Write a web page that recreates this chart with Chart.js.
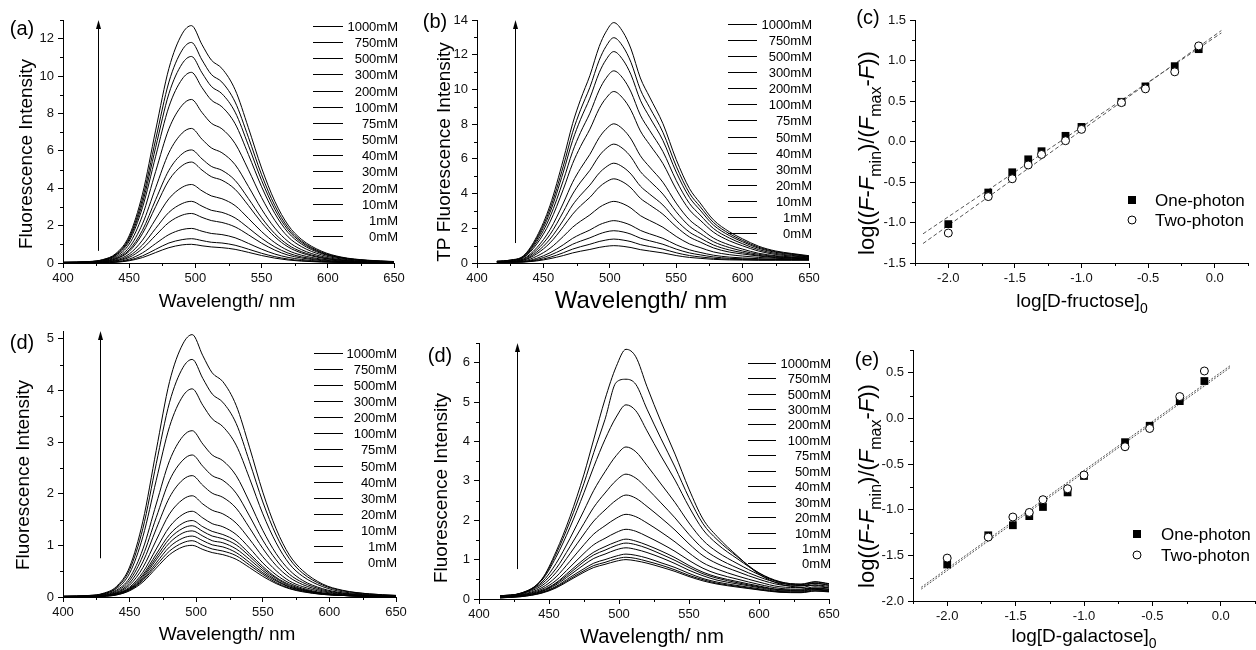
<!DOCTYPE html>
<html>
<head>
<meta charset="utf-8">
<script src="https://cdn.jsdelivr.net/npm/chart.js@4.4.1/dist/chart.umd.min.js"></script>
<style>
  html, body { margin: 0; padding: 0; background: #fff; width: 1256px; height: 650px; overflow: hidden; }
  canvas { position: absolute; }
</style>
</head>
<body>
<canvas id="pa"></canvas>
<canvas id="pb"></canvas>
<canvas id="pc"></canvas>
<canvas id="pd"></canvas>
<canvas id="pd2"></canvas>
<canvas id="pe"></canvas>
<script>
// ---- data ----
const concLabels = ['1000mM', '750mM', '500mM', '300mM', '200mM', '100mM', '75mM', '50mM', '40mM', '30mM', '20mM', '10mM', '1mM', '0mM'];

// (a) one-photon, D-fructose
const waveA = [400, 420, 430, 440, 450, 460, 470, 480, 490, 497, 505, 512, 520, 530, 540, 550, 560, 570, 580, 595, 610, 630, 650];
const specA = [
  [0.04, 0.08, 0.18, 0.51, 1.46, 3.68, 7.11, 10.41, 12.26, 12.7, 11.68, 10.86, 10.41, 9.27, 7.24, 5.08, 3.30, 2.03, 1.27, 0.64, 0.32, 0.15, 0.08],
  [0.04, 0.07, 0.17, 0.47, 1.36, 3.42, 6.61, 9.68, 11.39, 11.8, 10.86, 10.09, 9.68, 8.61, 6.73, 4.72, 3.07, 1.89, 1.18, 0.59, 0.30, 0.14, 0.07],
  [0.03, 0.07, 0.15, 0.44, 1.27, 3.20, 6.19, 9.06, 10.66, 11.05, 10.17, 9.45, 9.06, 8.07, 6.30, 4.42, 2.87, 1.77, 1.11, 0.55, 0.28, 0.13, 0.07],
  [0.03, 0.06, 0.14, 0.41, 1.17, 2.96, 5.71, 8.36, 9.84, 10.2, 9.38, 8.72, 8.36, 7.45, 5.81, 4.08, 2.65, 1.63, 1.02, 0.51, 0.26, 0.12, 0.06],
  [0.03, 0.05, 0.12, 0.35, 1.01, 2.54, 4.90, 7.18, 8.44, 8.75, 8.05, 7.48, 7.18, 6.39, 4.99, 3.50, 2.28, 1.40, 0.88, 0.44, 0.22, 0.11, 0.05],
  [0.02, 0.04, 0.10, 0.29, 0.83, 2.09, 4.03, 5.90, 6.95, 7.2, 6.62, 6.16, 5.90, 5.26, 4.10, 2.88, 1.87, 1.15, 0.72, 0.36, 0.18, 0.09, 0.04],
  [0.02, 0.04, 0.08, 0.24, 0.70, 1.75, 3.39, 4.96, 5.84, 6.05, 5.57, 5.17, 4.96, 4.42, 3.45, 2.42, 1.57, 0.97, 0.61, 0.30, 0.15, 0.07, 0.04],
  [0.02, 0.03, 0.08, 0.22, 0.62, 1.57, 3.02, 4.43, 5.21, 5.4, 4.97, 4.62, 4.43, 3.94, 3.08, 2.16, 1.40, 0.86, 0.54, 0.27, 0.14, 0.06, 0.03],
  [0.01, 0.03, 0.06, 0.17, 0.48, 1.22, 2.35, 3.44, 4.05, 4.2, 3.86, 3.59, 3.44, 3.07, 2.39, 1.68, 1.09, 0.67, 0.42, 0.21, 0.11, 0.05, 0.03],
  [0.01, 0.02, 0.05, 0.13, 0.38, 0.96, 1.85, 2.71, 3.18, 3.3, 3.04, 2.82, 2.71, 2.41, 1.88, 1.32, 0.86, 0.53, 0.33, 0.17, 0.08, 0.04, 0.02],
  [0.01, 0.02, 0.04, 0.11, 0.30, 0.77, 1.48, 2.17, 2.56, 2.65, 2.44, 2.27, 2.17, 1.93, 1.51, 1.06, 0.69, 0.42, 0.27, 0.13, 0.07, 0.03, 0.02],
  [0.01, 0.01, 0.03, 0.07, 0.21, 0.54, 1.04, 1.52, 1.79, 1.85, 1.70, 1.58, 1.52, 1.35, 1.05, 0.74, 0.48, 0.30, 0.19, 0.09, 0.05, 0.02, 0.01],
  [0.00, 0.01, 0.02, 0.05, 0.15, 0.38, 0.73, 1.07, 1.25, 1.3, 1.20, 1.11, 1.07, 0.95, 0.74, 0.52, 0.34, 0.21, 0.13, 0.07, 0.03, 0.02, 0.01],
  [0.00, 0.01, 0.01, 0.04, 0.12, 0.29, 0.56, 0.82, 0.97, 1.0, 0.92, 0.86, 0.82, 0.73, 0.57, 0.40, 0.26, 0.16, 0.10, 0.05, 0.03, 0.01, 0.01]
];

// (b) two-photon, D-fructose
const waveB = [415, 425, 435, 445, 455, 465, 472, 478, 485, 492, 497, 503, 510, 516, 523, 530, 540, 550, 560, 568, 578, 590, 600, 612, 625, 637, 650];
const specB = [
  [0.10, 0.17, 0.42, 1.52, 3.32, 5.96, 8.03, 9.42, 10.80, 12.47, 13.30, 13.85, 13.30, 12.33, 10.66, 9.56, 8.03, 5.96, 4.29, 3.46, 2.49, 1.80, 1.39, 0.97, 0.69, 0.55, 0.42],
  [0.10, 0.16, 0.39, 1.43, 3.12, 5.58, 7.53, 8.83, 10.12, 11.68, 12.46, 12.98, 12.46, 11.55, 9.99, 8.96, 7.53, 5.58, 4.02, 3.25, 2.34, 1.69, 1.30, 0.91, 0.65, 0.52, 0.39],
  [0.09, 0.15, 0.37, 1.34, 2.92, 5.24, 7.06, 8.28, 9.50, 10.96, 11.69, 12.18, 11.69, 10.84, 9.38, 8.40, 7.06, 5.24, 3.78, 3.05, 2.19, 1.58, 1.22, 0.85, 0.61, 0.49, 0.37],
  [0.08, 0.13, 0.33, 1.22, 2.66, 4.76, 6.42, 7.53, 8.63, 9.96, 10.63, 11.07, 10.63, 9.85, 8.52, 7.64, 6.42, 4.76, 3.43, 2.77, 1.99, 1.44, 1.11, 0.77, 0.55, 0.44, 0.35],
  [0.08, 0.12, 0.30, 1.09, 2.37, 4.25, 5.73, 6.72, 7.71, 8.89, 9.48, 9.88, 9.48, 8.79, 7.61, 6.82, 5.73, 4.25, 3.06, 2.47, 1.78, 1.28, 0.99, 0.69, 0.49, 0.40, 0.33],
  [0.07, 0.10, 0.24, 0.88, 1.92, 3.45, 4.65, 5.45, 6.26, 7.22, 7.70, 8.02, 7.70, 7.14, 6.18, 5.53, 4.65, 3.45, 2.49, 2.01, 1.44, 1.04, 0.80, 0.56, 0.42, 0.35, 0.30],
  [0.07, 0.09, 0.21, 0.75, 1.64, 2.95, 3.97, 4.66, 5.34, 6.17, 6.58, 6.85, 6.58, 6.10, 5.27, 4.73, 3.97, 2.95, 2.12, 1.71, 1.23, 0.89, 0.69, 0.50, 0.38, 0.32, 0.28],
  [0.06, 0.08, 0.17, 0.63, 1.38, 2.47, 3.34, 3.91, 4.49, 5.18, 5.52, 5.75, 5.52, 5.12, 4.43, 3.97, 3.34, 2.47, 1.78, 1.44, 1.04, 0.75, 0.60, 0.44, 0.34, 0.30, 0.26],
  [0.06, 0.07, 0.15, 0.53, 1.16, 2.09, 2.81, 3.30, 3.78, 4.37, 4.66, 4.85, 4.66, 4.32, 3.73, 3.35, 2.81, 2.09, 1.50, 1.21, 0.87, 0.63, 0.52, 0.40, 0.31, 0.27, 0.24],
  [0.05, 0.06, 0.11, 0.39, 0.85, 1.53, 2.06, 2.41, 2.77, 3.20, 3.41, 3.55, 3.41, 3.16, 2.73, 2.45, 2.06, 1.53, 1.10, 0.89, 0.64, 0.48, 0.40, 0.32, 0.27, 0.24, 0.22],
  [0.05, 0.05, 0.08, 0.27, 0.59, 1.05, 1.42, 1.66, 1.90, 2.20, 2.34, 2.44, 2.34, 2.17, 1.88, 1.68, 1.42, 1.05, 0.76, 0.61, 0.45, 0.34, 0.29, 0.25, 0.22, 0.21, 0.20],
  [0.05, 0.05, 0.07, 0.20, 0.45, 0.80, 1.08, 1.26, 1.45, 1.67, 1.79, 1.86, 1.79, 1.66, 1.43, 1.28, 1.08, 0.80, 0.58, 0.47, 0.35, 0.27, 0.24, 0.21, 0.20, 0.19, 0.19],
  [0.05, 0.05, 0.06, 0.15, 0.33, 0.59, 0.80, 0.94, 1.08, 1.24, 1.32, 1.38, 1.32, 1.23, 1.06, 0.95, 0.80, 0.59, 0.43, 0.35, 0.27, 0.22, 0.20, 0.18, 0.18, 0.18, 0.18],
  [0.05, 0.05, 0.06, 0.12, 0.25, 0.43, 0.58, 0.68, 0.78, 0.90, 0.96, 1.00, 0.96, 0.89, 0.77, 0.69, 0.58, 0.43, 0.32, 0.27, 0.21, 0.18, 0.17, 0.16, 0.16, 0.16, 0.16]
];

// (c) Hill-type plot, D-fructose
const logFructose = [-2.0, -1.7, -1.52, -1.4, -1.3, -1.12, -1.0, -0.7, -0.52, -0.3, -0.12];
const cOnePhoton = [-1.02, -0.63, -0.38, -0.22, -0.12, 0.07, 0.18, 0.49, 0.68, 0.93, 1.14];
const cTwoPhoton = [-1.13, -0.68, -0.46, -0.29, -0.16, 0.01, 0.15, 0.48, 0.65, 0.86, 1.18];
const cFitX = [-2.19, 0.05];
const cFitOne = [-1.14, 1.34];
const cFitTwo = [-1.26, 1.37];

// (d) one-photon, D-galactose
const waveD = [400, 420, 430, 440, 450, 460, 470, 480, 490, 497, 505, 512, 520, 530, 540, 550, 560, 570, 580, 595, 610, 630, 650];
const specD = [
  [0.02, 0.03, 0.07, 0.20, 0.58, 1.47, 2.84, 4.17, 4.90, 5.08, 4.67, 4.34, 4.17, 3.71, 2.90, 2.03, 1.32, 0.81, 0.51, 0.25, 0.13, 0.06, 0.03],
  [0.01, 0.03, 0.06, 0.18, 0.53, 1.33, 2.58, 3.77, 4.44, 4.6, 4.23, 3.93, 3.77, 3.36, 2.62, 1.84, 1.20, 0.74, 0.46, 0.23, 0.12, 0.06, 0.03],
  [0.01, 0.02, 0.06, 0.16, 0.46, 1.17, 2.26, 3.30, 3.89, 4.03, 3.71, 3.45, 3.30, 2.94, 2.30, 1.61, 1.05, 0.64, 0.40, 0.20, 0.10, 0.05, 0.02],
  [0.01, 0.02, 0.05, 0.13, 0.37, 0.93, 1.80, 2.64, 3.11, 3.22, 2.96, 2.75, 2.64, 2.35, 1.84, 1.29, 0.84, 0.52, 0.32, 0.16, 0.08, 0.04, 0.02],
  [0.01, 0.02, 0.04, 0.11, 0.32, 0.80, 1.54, 2.26, 2.65, 2.75, 2.53, 2.35, 2.26, 2.01, 1.57, 1.10, 0.72, 0.44, 0.28, 0.14, 0.07, 0.03, 0.02],
  [0.01, 0.01, 0.03, 0.09, 0.27, 0.68, 1.32, 1.93, 2.27, 2.35, 2.16, 2.01, 1.93, 1.72, 1.34, 0.94, 0.61, 0.38, 0.24, 0.12, 0.06, 0.03, 0.01],
  [0.01, 0.01, 0.03, 0.08, 0.23, 0.57, 1.10, 1.61, 1.89, 1.96, 1.80, 1.68, 1.61, 1.43, 1.12, 0.78, 0.51, 0.31, 0.20, 0.10, 0.05, 0.02, 0.01],
  [0.00, 0.01, 0.02, 0.07, 0.19, 0.48, 0.93, 1.36, 1.60, 1.66, 1.53, 1.42, 1.36, 1.21, 0.95, 0.66, 0.43, 0.27, 0.17, 0.08, 0.04, 0.02, 0.01],
  [0.00, 0.01, 0.02, 0.06, 0.17, 0.43, 0.83, 1.21, 1.43, 1.48, 1.36, 1.27, 1.21, 1.08, 0.84, 0.59, 0.38, 0.24, 0.15, 0.07, 0.04, 0.02, 0.01],
  [0.00, 0.01, 0.02, 0.06, 0.16, 0.40, 0.77, 1.13, 1.33, 1.38, 1.27, 1.18, 1.13, 1.01, 0.79, 0.55, 0.36, 0.22, 0.14, 0.07, 0.03, 0.02, 0.01],
  [0.00, 0.01, 0.02, 0.05, 0.15, 0.37, 0.72, 1.05, 1.24, 1.28, 1.18, 1.09, 1.05, 0.93, 0.73, 0.51, 0.33, 0.20, 0.13, 0.06, 0.03, 0.02, 0.01],
  [0.00, 0.01, 0.02, 0.05, 0.14, 0.34, 0.66, 0.97, 1.14, 1.18, 1.09, 1.01, 0.97, 0.86, 0.67, 0.47, 0.31, 0.19, 0.12, 0.06, 0.03, 0.01, 0.01],
  [0.00, 0.01, 0.02, 0.04, 0.13, 0.32, 0.61, 0.89, 1.05, 1.09, 1.00, 0.93, 0.89, 0.80, 0.62, 0.44, 0.28, 0.17, 0.11, 0.05, 0.03, 0.01, 0.01],
  [0.00, 0.01, 0.01, 0.04, 0.12, 0.29, 0.56, 0.82, 0.97, 1.0, 0.92, 0.86, 0.82, 0.73, 0.57, 0.40, 0.26, 0.16, 0.10, 0.05, 0.03, 0.01, 0.01]
];

// (d, right) two-photon, D-galactose
const waveD2 = [415, 430, 445, 455, 465, 475, 482, 490, 498, 505, 512, 520, 530, 540, 550, 560, 570, 585, 600, 615, 630, 640, 650];
const specD2 = [
  [0.08, 0.13, 0.51, 1.20, 2.09, 3.17, 4.06, 5.07, 5.90, 6.34, 6.15, 5.39, 4.50, 3.68, 2.79, 2.03, 1.59, 1.08, 0.63, 0.38, 0.29, 0.25, 0.19],
  [0.08, 0.14, 0.50, 1.14, 1.97, 2.94, 3.72, 4.56, 5.50, 5.58, 5.45, 4.82, 4.07, 3.35, 2.57, 1.91, 1.51, 1.06, 0.66, 0.42, 0.34, 0.35, 0.28],
  [0.08, 0.15, 0.48, 1.06, 1.82, 2.70, 3.36, 4.05, 4.62, 4.93, 4.78, 4.27, 3.63, 3.02, 2.34, 1.76, 1.40, 1.01, 0.66, 0.44, 0.37, 0.40, 0.35],
  [0.08, 0.15, 0.43, 0.90, 1.54, 2.25, 2.76, 3.23, 3.64, 3.86, 3.74, 3.39, 2.92, 2.45, 1.93, 1.49, 1.20, 0.89, 0.62, 0.43, 0.38, 0.44, 0.39],
  [0.07, 0.14, 0.39, 0.77, 1.33, 1.92, 2.33, 2.69, 3.01, 3.17, 3.07, 2.81, 2.44, 2.06, 1.64, 1.28, 1.04, 0.78, 0.56, 0.40, 0.36, 0.43, 0.38],
  [0.06, 0.13, 0.34, 0.67, 1.15, 1.65, 1.98, 2.26, 2.51, 2.64, 2.56, 2.35, 2.06, 1.75, 1.40, 1.10, 0.90, 0.69, 0.50, 0.36, 0.33, 0.40, 0.35],
  [0.06, 0.11, 0.29, 0.56, 0.96, 1.38, 1.65, 1.86, 2.05, 2.15, 2.09, 1.93, 1.70, 1.45, 1.17, 0.92, 0.76, 0.58, 0.43, 0.31, 0.29, 0.36, 0.32],
  [0.05, 0.10, 0.25, 0.47, 0.81, 1.16, 1.38, 1.54, 1.69, 1.77, 1.72, 1.59, 1.41, 1.21, 0.98, 0.78, 0.64, 0.50, 0.37, 0.27, 0.25, 0.31, 0.28],
  [0.04, 0.09, 0.22, 0.41, 0.71, 1.01, 1.19, 1.33, 1.45, 1.52, 1.47, 1.37, 1.22, 1.05, 0.85, 0.68, 0.56, 0.44, 0.33, 0.24, 0.23, 0.28, 0.25],
  [0.04, 0.08, 0.20, 0.39, 0.66, 0.95, 1.12, 1.24, 1.36, 1.42, 1.38, 1.29, 1.14, 0.98, 0.80, 0.64, 0.53, 0.41, 0.31, 0.23, 0.21, 0.27, 0.24],
  [0.04, 0.08, 0.19, 0.36, 0.61, 0.87, 1.03, 1.14, 1.25, 1.30, 1.26, 1.18, 1.05, 0.90, 0.73, 0.59, 0.48, 0.38, 0.29, 0.21, 0.20, 0.25, 0.22],
  [0.03, 0.07, 0.17, 0.32, 0.55, 0.77, 0.91, 1.00, 1.09, 1.14, 1.11, 1.04, 0.92, 0.80, 0.65, 0.52, 0.43, 0.34, 0.26, 0.19, 0.18, 0.23, 0.21],
  [0.03, 0.06, 0.16, 0.30, 0.51, 0.72, 0.85, 0.93, 1.02, 1.06, 1.03, 0.96, 0.86, 0.74, 0.60, 0.49, 0.40, 0.32, 0.24, 0.18, 0.17, 0.21, 0.19],
  [0.03, 0.06, 0.15, 0.28, 0.48, 0.68, 0.80, 0.88, 0.96, 1.00, 0.97, 0.91, 0.81, 0.70, 0.57, 0.46, 0.38, 0.30, 0.23, 0.17, 0.16, 0.20, 0.18]
];

// (e) Hill-type plot, D-galactose
const logGalactose = [-2.0, -1.7, -1.52, -1.4, -1.3, -1.12, -1.0, -0.7, -0.52, -0.3, -0.12];
const eOnePhoton = [-1.60, -1.28, -1.17, -1.07, -0.97, -0.81, -0.63, -0.26, -0.08, 0.19, 0.41];
const eTwoPhoton = [-1.53, -1.30, -1.08, -1.03, -0.89, -0.77, -0.62, -0.31, -0.11, 0.24, 0.52];
const eFitX = [-2.19, 0.07];
const eFitOne = [-1.87, 0.56];
const eFitTwo = [-1.85, 0.58];

// ---- drawing ----
const FONT = '"Liberation Sans", Arial, Helvetica, sans-serif';
Chart.defaults.font.family = FONT;

// text made of pieces (italic / subscript), centred on x,y
function richText(ctx, segs, x, y, size, rotate) {
  ctx.save();
  ctx.translate(x, y);
  if (rotate) ctx.rotate(-Math.PI / 2);
  ctx.textAlign = 'left';
  ctx.textBaseline = 'alphabetic';
  ctx.fillStyle = '#000';
  let w = 0;
  const parts = segs.map(s => {
    const fs = s.sub ? Math.round(size * 0.72) : size;
    const f = (s.it ? 'italic ' : '') + fs + 'px ' + FONT;
    ctx.font = f;
    const m = ctx.measureText(s.t).width;
    w += m;
    return { s, f, m };
  });
  let cx = -w / 2;
  parts.forEach(p => {
    ctx.font = p.f;
    ctx.fillText(p.s.t, cx, size * 0.36 + (p.s.sub ? size * 0.3 : 0));
    cx += p.m;
  });
  ctx.restore();
}

function extras(cfg) {
  return {
    id: 'extras',
    afterDraw(chart) {
      const ctx = chart.ctx, xs = chart.scales.x, ys = chart.scales.y, a = chart.chartArea;
      const ox = cfg.ox, oy = cfg.oy;
      ctx.save();
      ctx.strokeStyle = '#000';
      ctx.fillStyle = '#000';
      ctx.lineWidth = 1;

      // minor ticks
      ctx.beginPath();
      for (let k = 0; ; k++) {
        const v = xs.min + k * cfg.xMinor;
        if (v > xs.max + 1e-9) break;
        const q = v / cfg.xMajor;
        if (Math.abs(q - Math.round(q)) < 1e-6) continue;
        const px = Math.round(xs.getPixelForValue(v)) + 0.5;
        ctx.moveTo(px, a.bottom);
        ctx.lineTo(px, a.bottom + 3);
      }
      for (let k = 0; ; k++) {
        const v = ys.min + k * cfg.yMinor;
        if (v > ys.max + 1e-9) break;
        const q = v / cfg.yMajor;
        if (Math.abs(q - Math.round(q)) < 1e-6) continue;
        const py = Math.round(ys.getPixelForValue(v)) + 0.5;
        ctx.moveTo(a.left, py);
        ctx.lineTo(a.left - 3, py);
      }
      ctx.stroke();

      // arrow
      if (cfg.arrow) {
        const [ax, y1, y2] = cfg.arrow;
        const px = Math.round(xs.getPixelForValue(ax)) + 0.5;
        const pb = ys.getPixelForValue(y1), pt = ys.getPixelForValue(y2);
        ctx.beginPath();
        ctx.moveTo(px, pb);
        ctx.lineTo(px, pt + 6);
        ctx.stroke();
        ctx.beginPath();
        ctx.moveTo(px, pt);
        ctx.lineTo(px - 2.5, pt + 9);
        ctx.lineTo(px + 2.5, pt + 9);
        ctx.closePath();
        ctx.fill();
      }

      // concentration legend
      if (cfg.legend) {
        const g = cfg.legend;
        ctx.font = '13px ' + FONT;
        ctx.textAlign = 'right';
        ctx.textBaseline = 'middle';
        chart.data.datasets.forEach((ds, i) => {
          const y = Math.round(g.y0 + i * g.dy - oy) + 0.5;
          ctx.beginPath();
          ctx.moveTo(g.x1 - ox, y);
          ctx.lineTo(g.x2 - ox, y);
          ctx.stroke();
          ctx.fillText(ds.label, g.rx - ox, y + 0.5);
        });
      }

      // marker legend
      if (cfg.marks) {
        const m = cfg.marks;
        const one = chart.data.datasets[1], two = chart.data.datasets[0];
        ctx.fillStyle = '#000';
        ctx.fillRect(m.x - ox - 4, m.y1 - oy - 4, 8, 8);
        ctx.beginPath();
        ctx.arc(m.x - ox, m.y2 - oy, 4, 0, Math.PI * 2);
        ctx.fillStyle = '#fff';
        ctx.fill();
        ctx.stroke();
        ctx.fillStyle = '#000';
        ctx.font = m.size + 'px ' + FONT;
        ctx.textAlign = 'left';
        ctx.textBaseline = 'middle';
        ctx.fillText(one.label, m.tx - ox, m.y1 - oy + 1);
        ctx.fillText(two.label, m.tx - ox, m.y2 - oy + 1);
      }

      // titles and panel tag
      richText(ctx, cfg.ytitle.segs, cfg.ytitle.x - ox, cfg.ytitle.y - oy, cfg.ytitle.size, true);
      richText(ctx, cfg.xtitle.segs, cfg.xtitle.x - ox, cfg.xtitle.y - oy, cfg.xtitle.size, false);
      ctx.fillStyle = '#000';
      ctx.font = '20px ' + FONT;
      ctx.textAlign = 'center';
      ctx.textBaseline = 'middle';
      ctx.fillText(cfg.tag.t, cfg.tag.x - ox, cfg.tag.y - oy);
      ctx.restore();
    }
  };
}

// major ticks on whole multiples of the step, inside [min, max]
function axis(min, max, step, isY, fmt) {
  const ax = {
    type: 'linear',
    min: min,
    max: max,
    afterFit: s => { if (isY) s.width = 70; else s.height = 52; },
    afterBuildTicks: s => {
      const t = [];
      for (let k = Math.ceil(min / step - 1e-9); k * step <= max + 1e-9; k++) t.push({ value: Math.round(k * step * 1000) / 1000 });
      s.ticks = t;
    },
    border: { display: true, color: '#000', width: 1 },
    grid: { drawOnChartArea: false, drawTicks: true, tickLength: 5, color: '#000', tickColor: '#000', tickWidth: 1 },
    ticks: { stepSize: step, autoSkip: false, maxRotation: 0, color: '#111',
             font: { size: 13, family: FONT }, padding: isY ? 4 : 3 }
  };
  if (fmt) ax.ticks.callback = fmt;
  return ax;
}

function baseOptions(x, y) {
  return {
    responsive: false,
    animation: false,
    events: [],
    layout: { padding: { left: 0, top: 20, right: 30, bottom: 0 } },
    plugins: { legend: { display: false }, tooltip: { enabled: false } },
    scales: { x: x, y: y }
  };
}

function place(id, r) {
  const c = document.getElementById(id);
  c.width = r.R - r.L + 100;
  c.height = r.B - r.T + 72;
  c.style.left = (r.L - 70) + 'px';
  c.style.top = (r.T - 20) + 'px';
  return c;
}

function spectrumChart(id, r, wave, spec, ymax, ystep, cfg) {
  const c = place(id, r);
  Object.assign(cfg, { ox: r.L - 70, oy: r.T - 20, xMinor: 25, xMajor: 50, yMinor: ystep / 2, yMajor: ystep });
  new Chart(c, {
    type: 'line',
    data: {
      datasets: spec.map((row, i) => ({
        label: concLabels[i],
        data: wave.map((w, j) => ({ x: w, y: row[j] })),
        borderColor: '#000',
        borderWidth: 1,
        pointRadius: 0,
        fill: false,
        cubicInterpolationMode: 'monotone'
      }))
    },
    options: baseOptions(axis(400, 650, 50, false), axis(0, ymax, ystep, true)),
    plugins: [extras(cfg)]
  });
}

function hillChart(id, r, ymin, ymax, xv, one, two, fitX, fitOne, fitTwo, dash, cfg) {
  const c = place(id, r);
  Object.assign(cfg, { ox: r.L - 70, oy: r.T - 20, xMinor: 0.25, xMajor: 0.5, yMinor: 0.25, yMajor: 0.5 });
  const f1 = v => v.toFixed(1);
  const fit = ys => ({
    data: fitX.map((x, i) => ({ x: x, y: ys[i] })),
    showLine: true, pointRadius: 0, borderColor: '#555', borderWidth: 1, borderDash: dash, order: 2
  });
  new Chart(c, {
    type: 'scatter',
    data: {
      datasets: [
        { label: 'Two-photon', data: xv.map((x, i) => ({ x: x, y: two[i] })), pointStyle: 'circle', pointRadius: 4,
          backgroundColor: '#fff', borderColor: '#000', borderWidth: 1, order: 0 },
        { label: 'One-photon', data: xv.map((x, i) => ({ x: x, y: one[i] })), pointStyle: 'rect', pointRadius: 5.5,
          backgroundColor: '#000', borderColor: '#000', borderWidth: 0, order: 1 },
        Object.assign({ label: 'fit one' }, fit(fitOne)),
        Object.assign({ label: 'fit two' }, fit(fitTwo))
      ]
    },
    options: baseOptions(axis(-2.25, 0.25, 0.5, false, f1), axis(ymin, ymax, 0.5, true, f1)),
    plugins: [extras(cfg)]
  });
}

const wl = [{ t: 'Wavelength/ nm' }];
const fl = [{ t: 'Fluorescence Intensity' }];
const hillY = [{ t: 'log((' }, { t: 'F', it: 1 }, { t: '-' }, { t: 'F', it: 1 }, { t: 'min', sub: 1 }, { t: ')/(' },
               { t: 'F', it: 1 }, { t: 'max', sub: 1 }, { t: '-' }, { t: 'F', it: 1 }, { t: '))' }];

spectrumChart('pa', { L: 63, T: 20, R: 394, B: 263 }, waveA, specA, 13, 2, {
  arrow: [426.5, 0.65, 13],
  legend: { x1: 313, x2: 343, rx: 398, y0: 26, dy: 16.15 },
  ytitle: { segs: fl, x: 25, y: 154, size: 19 },
  xtitle: { segs: wl, x: 227, y: 300, size: 19 },
  tag: { t: '(a)', x: 22, y: 29 }
});

spectrumChart('pb', { L: 477, T: 20, R: 809, B: 263 }, waveB, specB, 14, 2, {
  arrow: [428.6, 1.15, 14],
  legend: { x1: 728, x2: 757, rx: 812, y0: 24, dy: 16.08 },
  ytitle: { segs: [{ t: 'TP Fluorescence Intensity' }], x: 443, y: 152, size: 19 },
  xtitle: { segs: wl, x: 641, y: 299, size: 24 },
  tag: { t: '(b)', x: 435, y: 22 }
});

hillChart('pc', { L: 915, T: 20, R: 1248, B: 263 }, -1.5, 1.5, logFructose, cOnePhoton, cTwoPhoton,
  cFitX, cFitOne, cFitTwo, [4, 2.5], {
  marks: { x: 1132, y1: 200, y2: 220, tx: 1155, size: 17 },
  ytitle: { segs: hillY, x: 866, y: 153, size: 22 },
  xtitle: { segs: [{ t: 'log[D-fructose]' }, { t: '0', sub: 1 }], x: 1082, y: 300, size: 19 },
  tag: { t: '(c)', x: 868, y: 18 }
});

spectrumChart('pd', { L: 63, T: 331, R: 396, B: 597 }, waveD, specD, 5.15, 1, {
  arrow: [427.8, 0.75, 5.15],
  legend: { x1: 314, x2: 343, rx: 397, y0: 353.3, dy: 16.03 },
  ytitle: { segs: fl, x: 22, y: 475, size: 19 },
  xtitle: { segs: wl, x: 227, y: 633, size: 19 },
  tag: { t: '(d)', x: 22, y: 343 }
});

spectrumChart('pd2', { L: 479, T: 343, R: 829, B: 599 }, waveD2, specD2, 6.5, 1, {
  arrow: [427.4, 0.76, 6.5],
  legend: { x1: 748, x2: 776, rx: 831, y0: 362.7, dy: 15.44 },
  ytitle: { segs: fl, x: 440, y: 488, size: 19 },
  xtitle: { segs: wl, x: 652, y: 636, size: 20 },
  tag: { t: '(d)', x: 440, y: 356 }
});

hillChart('pe', { L: 913, T: 350, R: 1255, B: 601 }, -2.0, 0.75, logGalactose, eOnePhoton, eTwoPhoton,
  eFitX, eFitOne, eFitTwo, [2, 1.5], {
  marks: { x: 1137, y1: 534, y2: 555, tx: 1161, size: 17 },
  ytitle: { segs: hillY, x: 866, y: 486, size: 22 },
  xtitle: { segs: [{ t: 'log[D-galactose]' }, { t: '0', sub: 1 }], x: 1084, y: 635, size: 19 },
  tag: { t: '(e)', x: 867, y: 360 }
});
</script>
</body>
</html>
